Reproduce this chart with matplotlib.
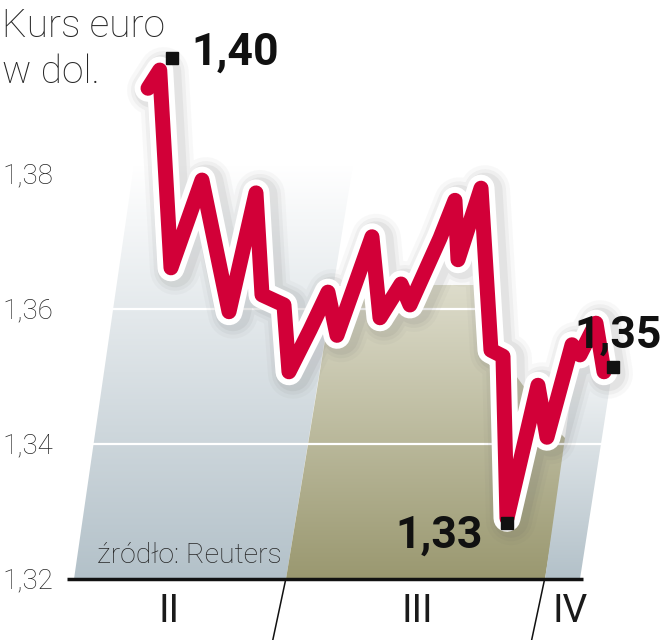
import matplotlib.pyplot as plt
import matplotlib.colors as mcolors
import numpy as np
from matplotlib import transforms
from matplotlib.patches import Polygon

# kurs euro w dolarach; os x = dni liczone od 1 lutego
days = [11.5, 12.9, 14.25, 17.96, 21.2, 24.43, 25.15, 27.78, 28.38, 30.9,
        33.05, 34.13, 38.32, 39.28, 41.8, 42.87, 46.47, 48.26, 48.62, 51.38,
        52.57, 54.01, 54.49, 58.2, 59.28, 62.28, 63.23, 65.15, 66.11]
rate = [1.3927, 1.3954, 1.3661, 1.3791, 1.3596, 1.3772, 1.3621, 1.3606, 1.3507, 1.3569,
        1.3625, 1.3561, 1.3707, 1.3587, 1.3637, 1.3606, 1.3705, 1.3761, 1.3673, 1.3779,
        1.3539, 1.3530, 1.3290, 1.3487, 1.3410, 1.3547, 1.3532, 1.3579, 1.3507]

month_names = ['II', 'III', 'IV']
month_label_day = [14.0, 43.7, 62.1]
month_breaks = [28, 59]
y_ticks = [1.32, 1.34, 1.36, 1.38]
y_tick_labels = ['1,32', '1,34', '1,36', '1,38']
grid_vals = [1.34, 1.36]

W, H = 669, 640
fig = plt.figure(figsize=(W / 100, H / 100), dpi=100)
ax = fig.add_axes([0, 0, 1, 1])
ax.set_axis_off()

# skala rysunku: 8.35 px na dzien, 6750 px na 1 dolara
X0, PX_DAY = 52, 8.35
Y0, PX_VAL = 579, 6750
XLIM = (-X0 / PX_DAY, (W - X0) / PX_DAY)
YLIM = (1.32 - (H - Y0) / PX_VAL, 1.32 + Y0 / PX_VAL)


def d(px, py):
    return ((px - X0) / PX_DAY, 1.32 + (Y0 - py) / PX_VAL)


def panel(pts_px, c_bot, c_top):
    pts = [d(*p) for p in pts_px]
    poly = Polygon(pts, closed=True, facecolor='none', edgecolor='none')
    ax.add_patch(poly)
    xs = [p[0] for p in pts]
    ys = [p[1] for p in pts]
    t = np.linspace(0, 1, 256)[:, None, None]
    cb = np.array(mcolors.to_rgb(c_bot))
    ct = np.array(mcolors.to_rgb(c_top))
    img = cb + (ct - cb) * t
    im = ax.imshow(img, extent=(min(xs), max(xs), min(ys), max(ys)), origin='lower',
                   aspect='auto', interpolation='bilinear', zorder=1)
    im.set_clip_path(poly)


panel([(74, 579), (286, 579), (353, 165), (134, 165)], '#b3c1c9', '#ffffff')
panel([(286, 579), (545, 579), (567, 440), (552, 425), (503, 358), (490, 285), (334, 285)],
      '#9a9870', '#dddccb')
panel([(545, 579), (580, 579), (614, 360), (576, 360)], '#b3c1c9', '#f4f6f7')

ax.set_xlim(*XLIM)
ax.set_ylim(*YLIM)

# linie siatki
gx0, _ = d(68, 0)
gx1, _ = d(602, 0)
for v in grid_vals:
    ax.plot([gx0, gx1], [v, v], color='white', lw=1.6, zorder=2)

# os x
ax0, _ = d(67, 0)
ax1, _ = d(583, 0)
ax.plot([ax0, ax1], [1.32, 1.32], color='#111111', lw=2.5, zorder=3, solid_capstyle='butt')
for b in month_breaks:
    ax.plot([b, b - 13 / PX_DAY], [1.32, 1.32 - 61 / PX_VAL], color='#111111', lw=1.1,
            zorder=3, clip_on=False)

light = dict(family=['Roboto', 'DejaVu Sans'], fontweight='light', color='#262626')

tr_month = transforms.offset_copy(ax.transData, fig=fig, x=0, y=-43, units='dots')
for name, x in zip(month_names, month_label_day):
    ax.text(x, 1.32, name, ha='center', va='baseline', fontsize=28,
            family=['Roboto', 'DejaVu Sans'], color='#1a1a1a', transform=tr_month)

tr_tick = transforms.offset_copy(
    transforms.blended_transform_factory(ax.transAxes, ax.transData),
    fig=fig, x=0, y=-9, units='dots')
for v, lab in zip(y_ticks, y_tick_labels):
    ax.text(2 / W, v, lab, ha='left', va='baseline', fontsize=20, transform=tr_tick, **light)

fig.text(2 / W, 1 - 37 / H, 'Kurs euro', ha='left', va='baseline', fontsize=28, **light)
fig.text(2 / W, 1 - 83 / H, 'w dol.', ha='left', va='baseline', fontsize=28, **light)
ax.text(*d(97, 563), 'źródło: Reuters', ha='left', va='baseline', fontsize=20.5,
        zorder=3, **light)

# linia kursu: cien, biala obwodka, czerwona linia
style = dict(solid_joinstyle='round', solid_capstyle='round')
tr_shadow = transforms.offset_copy(ax.transData, fig=fig, x=4, y=-2, units='dots')
for w, a in [(50, 0.04), (42, 0.06), (35, 0.08)]:
    ax.plot(days, rate, color='#606060', lw=w * 0.72, alpha=a, transform=tr_shadow,
            zorder=4, **style)
ax.plot(days, rate, color='white', lw=27 * 0.72, zorder=5, **style)
ax.plot(days, rate, color='#d20038', lw=15 * 0.72, zorder=6, **style)

# wartosci: max, min, ostatnia
i_max, i_min = int(np.argmax(rate)), int(np.argmin(rate))
callouts = [
    (i_max, 12, 12, 32, 5, 'left'),
    (i_min, 0, -5, -24, -29, 'right'),
    (len(rate) - 1, 9, 5, -30, 24, 'left'),
]
for i, mx, my, tx, ty, ha in callouts:
    tr_m = transforms.offset_copy(ax.transData, fig=fig, x=mx, y=my, units='dots')
    ax.plot(days[i], rate[i], marker='s', ms=8.5, color='#111111', transform=tr_m, zorder=8)
    tr_t = transforms.offset_copy(ax.transData, fig=fig, x=tx, y=ty, units='dots')
    ax.text(days[i], rate[i], f'{rate[i]:.2f}'.replace('.', ','), ha=ha, va='baseline',
            fontsize=32, fontweight='bold', family=['Roboto', 'DejaVu Sans'],
            color='#111111', transform=tr_t, zorder=9)

fig.savefig('out.png', dpi=100)
